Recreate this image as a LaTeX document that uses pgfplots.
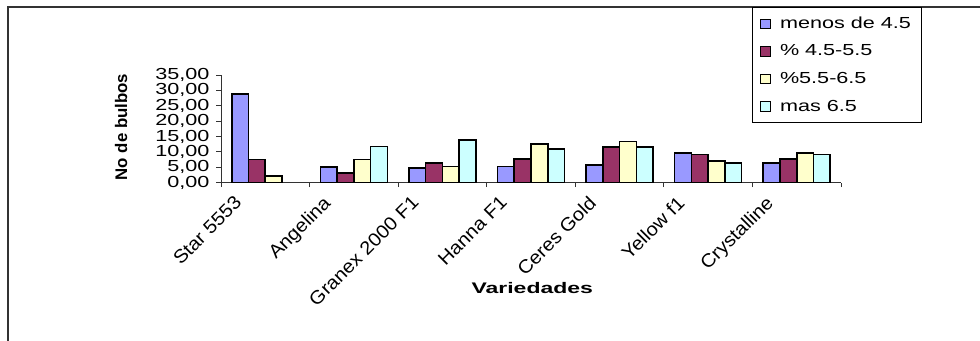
\documentclass[border=0pt]{standalone}
\usepackage{fontspec}
\setmainfont{Liberation Sans}
\newfontfamily\wide{Liberation Sans}[FakeStretch=1.35]
\newfontfamily\tlab{Liberation Sans}[FakeStretch=1.08]
\newfontfamily\vfont{Liberation Sans}[FakeStretch=1.5]
\usepackage{pgfplots}
\pgfplotsset{compat=1.18}
\definecolor{cA}{HTML}{9999FF}
\definecolor{cB}{HTML}{993366}
\definecolor{cC}{HTML}{FFFFCC}
\definecolor{cD}{HTML}{CCFFFF}
\begin{document}
\begin{tikzpicture}
\path[use as bounding box] (0,0) rectangle (735pt,255pt);
\draw[line width=1.1pt, black!80] (736pt,249.75pt) -- (6pt,249.75pt) -- (6pt,-1pt);
\begin{axis}[
  at={(165.75pt,118.125pt)}, anchor=south west,
  scale only axis, width=465pt, height=80.6pt,
  ymin=0, ymax=35, xmin=-0.5, xmax=6.5,
  axis x line=bottom, axis y line=left,
  axis line style={-, line width=0.7pt, black!80},
  ytick={0,5,...,35},
  yticklabel={\pgfmathprintnumber[fixed,fixed zerofill,precision=2,use comma]{\tick}},
  /pgf/number format/assume math mode=true,
  yticklabel style={font=\wide\fontsize{12pt}{12pt}\selectfont, inner sep=1pt, xshift=-4pt},
  ytick style={line width=0.7pt, black!80},
  tick align=outside,
  major tick length=3.5pt,
  xtick={-0.36,0.64,1.64,2.64,3.64,4.64,5.64},
  xticklabels={Star 5553, Angelina, Granex 2000 F1, Hanna F1, Ceres Gold, Yellow f1, Crystalline},
  x tick style={draw=none},
  minor xtick={-0.5,0.5,...,6.5},
  minor x tick style={draw=black!80, line width=0.7pt},
  minor tick length=3.5pt,
  xticklabel shift=4pt,
  xticklabel style={font=\tlab\fontsize{14pt}{14pt}\selectfont, rotate=45, anchor=north east, inner sep=1pt},
  xlabel={Variedades},
  xlabel style={font=\vfont\bfseries\fontsize{11.5pt}{11.5pt}\selectfont, at={(axis description cs:0.502,-0.981)}, anchor=center},
  ylabel={No de bulbos},
  ylabel style={font=\bfseries\fontsize{12.6pt}{12.6pt}\selectfont, at={(axis description cs:-0.161,0.516)}, anchor=center},
  ybar=0pt, bar width=0.189,
  every axis plot/.append style={draw=black, line width=1.2pt},
  legend style={at={(axis description cs:0.856,1.633)}, anchor=north west,
    draw=black, line width=0.75pt, font=\wide\fontsize{12pt}{12pt}\selectfont,
    row sep=6.8pt, inner xsep=6pt, inner ysep=5pt, cells={anchor=west}},
  legend image code/.code={\draw[#1, draw=black, line width=0.7pt] (0pt,-3.5pt) rectangle (7pt,3.5pt); \path[draw=none,fill=none] (0pt,0pt) -- (12.5pt,0pt);},
]
\addplot[fill=cA, bar shift=-0.2835] coordinates {(0,28.9) (1,5.0) (2,4.8) (3,5.2) (4,5.7) (5,9.6) (6,6.4)};
\addplot[fill=cB, bar shift=-0.0945] coordinates {(0,7.5) (1,3.1) (2,6.4) (3,7.7) (4,11.5) (5,9.1) (6,7.7)};
\addplot[fill=cC, bar shift=0.0945] coordinates {(0,2.1) (1,7.5) (2,5.2) (3,12.6) (4,13.4) (5,7.1) (6,9.6)};
\addplot[fill=cD, bar shift=0.2835] coordinates {(1,11.7) (2,13.9) (3,11.0) (4,11.5) (5,6.4) (6,9.1)};
\legend{menos de 4.5, \% 4.5-5.5, \%5.5-6.5, mas 6.5}
\end{axis}
\end{tikzpicture}
\end{document}
